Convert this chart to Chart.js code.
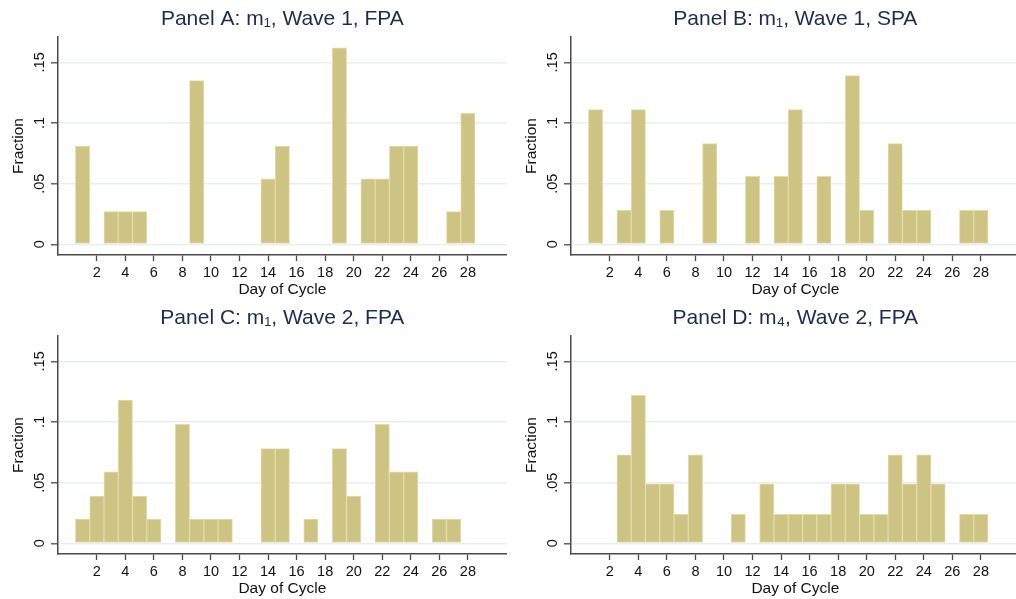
<!DOCTYPE html>
<html>
<head>
<meta charset="utf-8">
<script src="https://cdn.jsdelivr.net/npm/chart.js@4.4.1/dist/chart.umd.min.js"></script>
<style>
  html, body { margin: 0; padding: 0; background: #ffffff; overflow: hidden; }
  body { width: 1016px; height: 599px; position: relative; }
  .panel { position: absolute; width: 508px; height: 300px; }
</style>
</head>
<body>
<div class="panel" style="left:0px; top:0px;"><canvas id="cA" width="508" height="300"></canvas></div>
<div class="panel" style="left:513px; top:0px;"><canvas id="cB" width="508" height="300"></canvas></div>
<div class="panel" style="left:0px; top:299px;"><canvas id="cC" width="508" height="300"></canvas></div>
<div class="panel" style="left:513px; top:299px;"><canvas id="cD" width="508" height="300"></canvas></div>
<script>
// ---- Data ----
const titles = [
  "Panel A: m\u2081, Wave 1, FPA",
  "Panel B: m\u2081, Wave 1, SPA",
  "Panel C: m\u2081, Wave 2, FPA",
  "Panel D: m\u2084, Wave 2, FPA"
];

const daysA = [1, 3, 4, 5, 9, 14, 15, 19, 21, 22, 23, 24, 27, 28];
const fracA = [0.081, 0.027, 0.027, 0.027, 0.135, 0.054, 0.081, 0.162, 0.054, 0.054, 0.081, 0.081, 0.027, 0.108];

const daysB = [1, 3, 4, 6, 9, 12, 14, 15, 17, 19, 20, 22, 23, 24, 27, 28];
const fracB = [0.111, 0.028, 0.111, 0.028, 0.083, 0.056, 0.056, 0.111, 0.056, 0.139, 0.028, 0.083, 0.028, 0.028, 0.028, 0.028];

const daysC = [1, 2, 3, 4, 5, 6, 8, 9, 10, 11, 14, 15, 17, 19, 20, 22, 23, 24, 26, 27];
const fracC = [0.020, 0.039, 0.059, 0.118, 0.039, 0.020, 0.098, 0.020, 0.020, 0.020, 0.078, 0.078, 0.020, 0.078, 0.039, 0.098, 0.059, 0.059, 0.020, 0.020];

const daysD = [3, 4, 5, 6, 7, 8, 11, 13, 14, 15, 16, 17, 18, 19, 20, 21, 22, 23, 24, 25, 27, 28];
const fracD = [0.073, 0.122, 0.049, 0.049, 0.024, 0.073, 0.024, 0.049, 0.024, 0.024, 0.024, 0.024, 0.049, 0.049, 0.024, 0.024, 0.073, 0.049, 0.073, 0.049, 0.024, 0.024];

const xTicks = [2, 4, 6, 8, 10, 12, 14, 16, 18, 20, 22, 24, 26, 28];
const yTicks = [0, 0.05, 0.1, 0.15];
const yTickLabels = ["0", ".05", ".1", ".15"];
const xTitle = "Day of Cycle";
const yTitle = "Fraction";

// ---- Styling ----
const FONT = "'Liberation Sans', Arial, Helvetica, sans-serif";
const AXIS = "#4a4a4a";

function makeChart(id, title, days, fracs) {
  const ctx = document.getElementById(id).getContext('2d');
  return new Chart(ctx, {
    type: 'bar',
    data: {
      datasets: [{
        data: days.map((d, i) => ({ x: d, y: fracs[i] })),
        backgroundColor: '#cdc383',
        borderColor: '#e3dca9',
        borderWidth: 1,
        borderSkipped: false,
        barPercentage: 1.0,
        categoryPercentage: 1.0
      }]
    },
    options: {
      responsive: false,
      animation: false,
      devicePixelRatio: 1,
      layout: { padding: { left: 0, right: 1.3, top: 0, bottom: 0 } },
      plugins: {
        legend: { display: false },
        tooltip: { enabled: false },
        title: {
          display: true,
          fullSize: false,
          text: title,
          color: '#1c2b55',
          font: { family: FONT, size: 21, weight: 'normal' },
          padding: { top: 6.8, bottom: 5 }
        }
      },
      scales: {
        x: {
          type: 'linear',
          min: -0.72,
          max: 30.72,
          offset: false,
          afterBuildTicks: (s) => { s.ticks = xTicks.map(v => ({ value: v })); },
          afterFit: (s) => { s.height = 45; },
          ticks: {
            color: '#111111',
            font: { family: FONT, size: 14.5 },
            padding: 3.5,
            maxRotation: 0,
            minRotation: 0,
            autoSkip: false,
            callback: (v) => String(v)
          },
          grid: {
            display: true,
            offset: false,
            drawOnChartArea: false,
            drawTicks: true,
            tickLength: 6,
            tickColor: AXIS,
            tickWidth: 1.3
          },
          border: { display: true, color: AXIS, width: 1.5 },
          title: {
            display: true,
            text: xTitle,
            color: '#111111',
            font: { family: FONT, size: 15.5 },
            padding: { top: 0, bottom: 0.8 }
          }
        },
        y: {
          type: 'linear',
          min: -0.0088,
          max: 0.1709,
          afterBuildTicks: (s) => { s.ticks = yTicks.map(v => ({ value: v })); },
          afterFit: (s) => { s.width = 58; },
          ticks: {
            color: '#111111',
            font: { family: FONT, size: 14.5 },
            padding: 1,
            minRotation: 90,
            maxRotation: 90,
            crossAlign: 'center',
            callback: (v) => {
              const i = yTicks.findIndex(t => Math.abs(t - v) < 1e-9);
              return i >= 0 ? yTickLabels[i] : '';
            }
          },
          grid: {
            display: true,
            offset: false,
            drawOnChartArea: true,
            color: '#e7eff0',
            lineWidth: 1.6,
            drawTicks: true,
            tickLength: 7,
            tickColor: AXIS,
            tickWidth: 1.3
          },
          border: { display: true, color: AXIS, width: 1.5 },
          title: {
            display: true,
            text: yTitle,
            color: '#111111',
            font: { family: FONT, size: 15.5 },
            padding: { top: 9, bottom: 0 }
          }
        }
      }
    }
  });
}

makeChart('cA', titles[0], daysA, fracA);
makeChart('cB', titles[1], daysB, fracB);
makeChart('cC', titles[2], daysC, fracC);
makeChart('cD', titles[3], daysD, fracD);
</script>
</body>
</html>
